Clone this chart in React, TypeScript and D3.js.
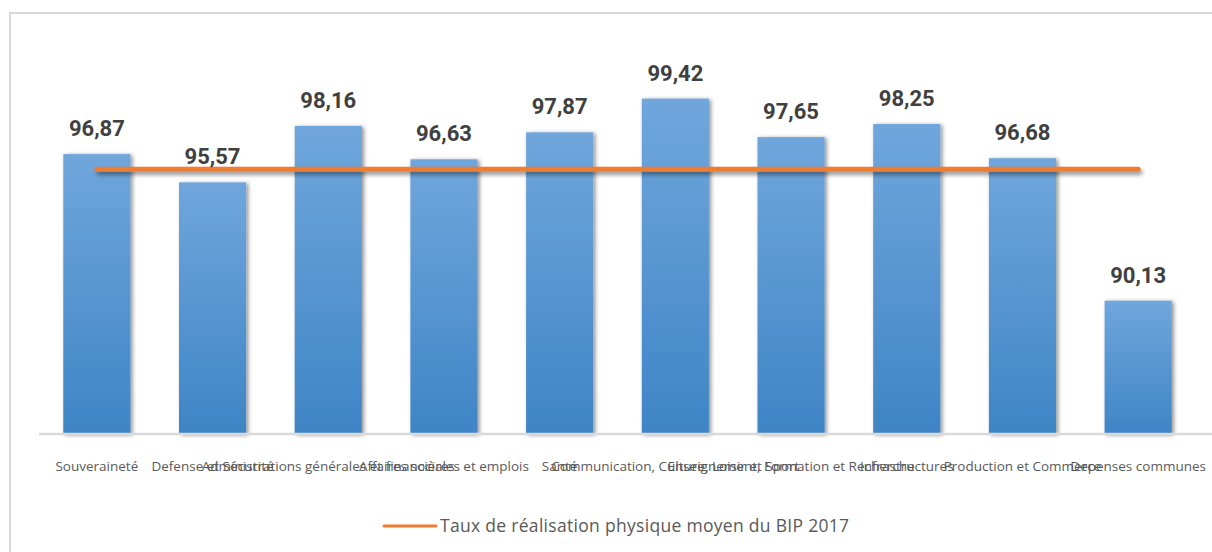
import React from "react";
import * as d3 from "d3";

const categories = [
  "Souveraineté",
  "Defense et Sécurité",
  "Administrations générales et financières",
  "Affaires sociales et emplois",
  "Santé",
  "Communication, Culture, Loisir et Sport",
  "Enseignement, Formation et Recherche",
  "Infrastructures",
  "Production et Commerce",
  "Depenses communes",
];
const values = [96.87, 95.57, 98.16, 96.63, 97.87, 99.42, 97.65, 98.25, 96.68, 90.13];
const averageValue = 96.17;
const legendLabel = "Taux de réalisation physique moyen du BIP 2017";
const yDomain = [84, 100];

const W = 1212;
const H = 552;

export default function App() {
  const x = d3
    .scaleBand<string>()
    .domain(categories)
    .range([39, 1196])
    .paddingInner(0.42)
    .paddingOuter(0.21);
  const y = d3.scaleLinear().domain(yDomain).range([434, 86]);
  const bw = x.bandwidth();
  const fmt = (v: number) => v.toFixed(2).replace(".", ",");
  const first = categories[0];
  const last = categories[categories.length - 1];
  const avgLine = d3.line<string>()
    .x((c) => (x(c) as number) + bw / 2)
    .y(() => y(averageValue));

  return (
    <svg
      width={W}
      height={H}
      style={{ position: "absolute", left: 0, top: 0, background: "#fff" }}
    >
      <defs>
        <linearGradient id="barGrad" x1="0" y1="0" x2="0" y2="1">
          <stop offset="0%" stopColor="#70a6dc" />
          <stop offset="100%" stopColor="#3e85c6" />
        </linearGradient>
        <filter id="barShadow" x="-20%" y="-5%" width="140%" height="110%">
          <feGaussianBlur in="SourceAlpha" stdDeviation="2" />
          <feOffset dx="1.5" dy="0.5" result="b" />
          <feComponentTransfer>
            <feFuncA type="linear" slope="0.45" />
          </feComponentTransfer>
          <feMerge>
            <feMergeNode />
            <feMergeNode in="SourceGraphic" />
          </feMerge>
        </filter>
        <filter id="lineShadow" filterUnits="userSpaceOnUse" x="0" y="0" width={W} height={H}>
          <feGaussianBlur in="SourceAlpha" stdDeviation="2" />
          <feOffset dx="2" dy="3" result="b" />
          <feComponentTransfer>
            <feFuncA type="linear" slope="0.45" />
          </feComponentTransfer>
          <feMerge>
            <feMergeNode />
            <feMergeNode in="SourceGraphic" />
          </feMerge>
        </filter>
      </defs>
      <rect x={10} y={13} width={1230} height={570} fill="none" stroke="#d9d9d9" strokeWidth={2} />
      {categories.map((c, i) => (
        <rect
          key={c}
          x={x(c)}
          y={y(values[i])}
          width={bw}
          height={y(yDomain[0]) - y(values[i])}
          fill="url(#barGrad)"
          filter="url(#barShadow)"
        />
      ))}
      <line x1={39} x2={1212} y1={434} y2={434} stroke="#d9d9d9" strokeWidth={2.5} />
      <path
        d={avgLine([first, last]) as string}
        stroke="#ed7d31"
        strokeWidth={5}
        strokeLinecap="round"
        fill="none"
        filter="url(#lineShadow)"
      />
      {categories.map((c, i) => (
        <text
          key={"v" + c}
          x={(x(c) as number) + bw / 2}
          y={y(values[i]) - 18}
          textAnchor="middle"
          fontFamily="Roboto, 'Noto Sans', sans-serif"
          fontWeight="bold"
          fontSize={22}
          fill="#404040"
        >
          {fmt(values[i])}
        </text>
      ))}
      {categories.map((c) => (
        <text
          key={"c" + c}
          x={(x(c) as number) + bw / 2}
          y={471}
          textAnchor="middle"
          fontFamily="'Open Sans', sans-serif"
          fontSize={13.5}
          fill="#595959"
        >
          {c}
        </text>
      ))}
      <line x1={384} x2={436} y1={526} y2={526} stroke="#ed7d31" strokeWidth={3} strokeLinecap="round" />
      <text
        x={440}
        y={532}
        fontFamily="'Open Sans', sans-serif"
        fontSize={17.5}
        letterSpacing={0.3}
        fill="#595959"
      >
        {legendLabel}
      </text>
    </svg>
  );
}
